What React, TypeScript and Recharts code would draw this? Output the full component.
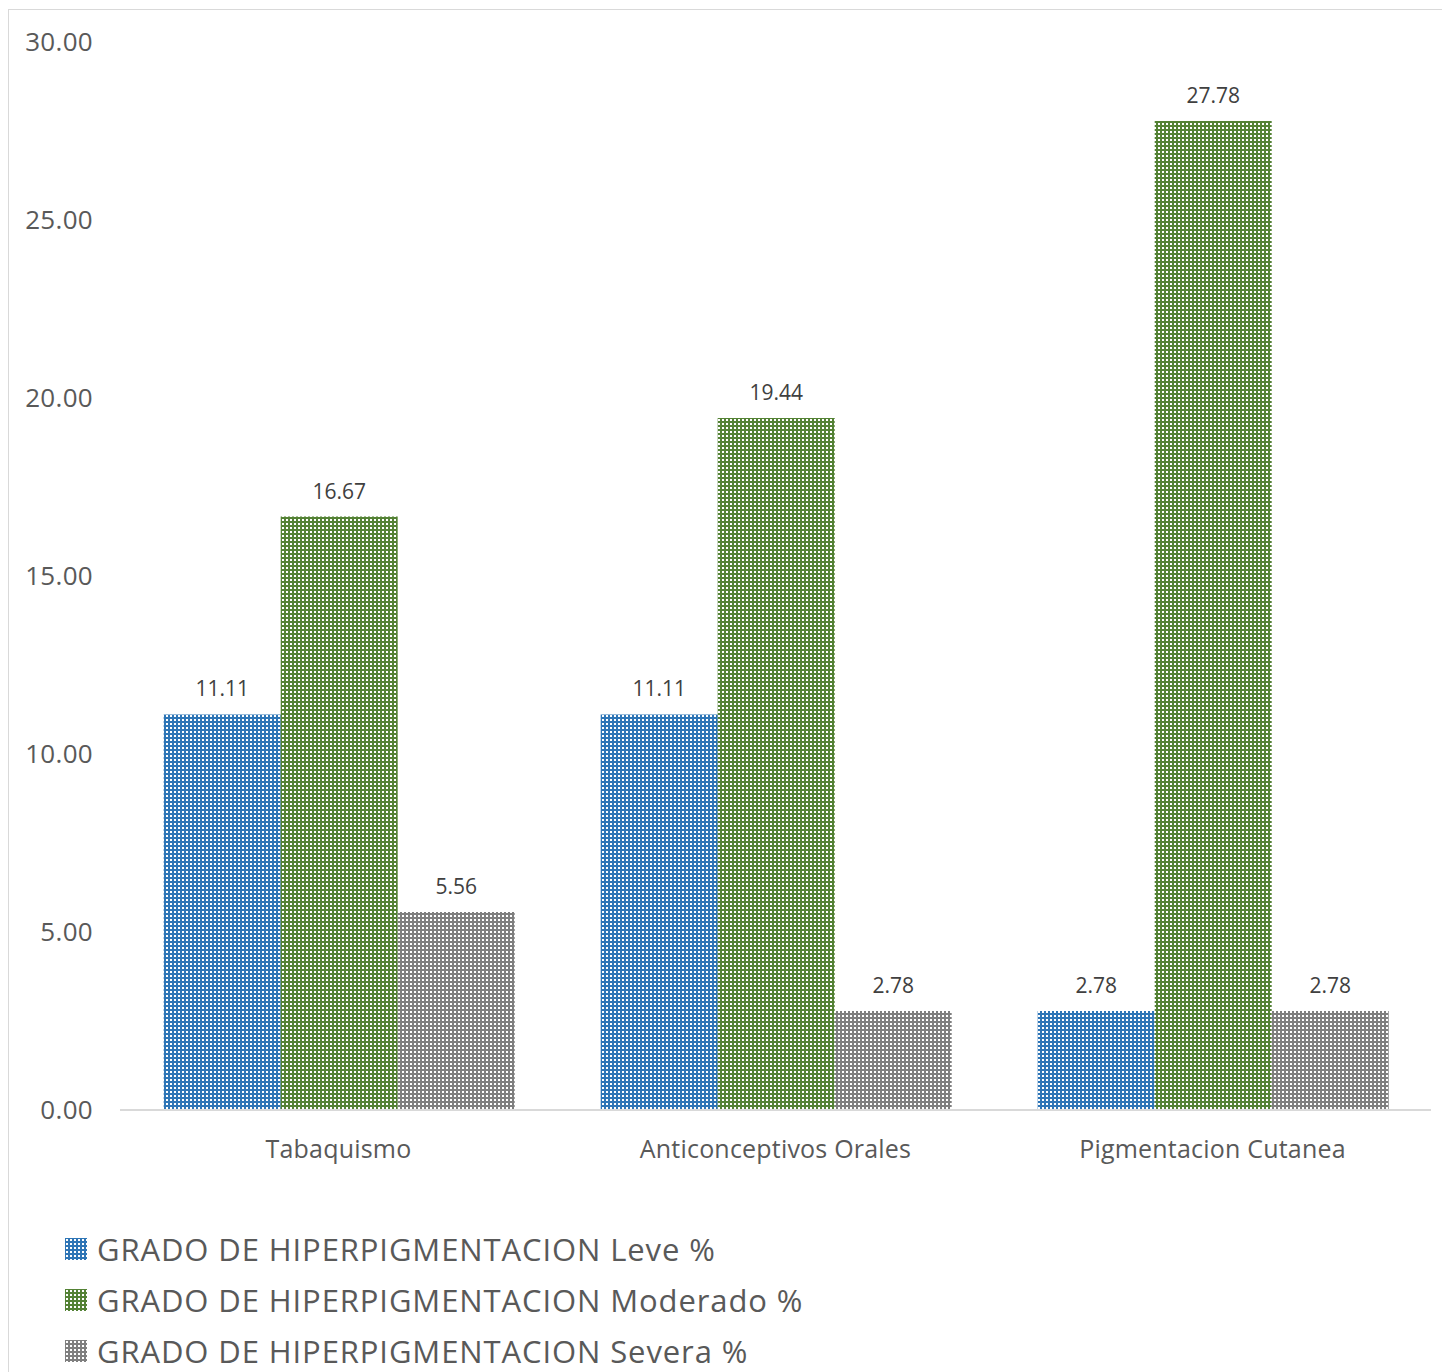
import { BarChart, Bar, XAxis, YAxis, Legend, LabelList } from "recharts";

const categories = ["Tabaquismo", "Anticonceptivos Orales", "Pigmentacion Cutanea"];
const leve = [11.11, 11.11, 2.78];
const moderado = [16.67, 19.44, 27.78];
const severa = [5.56, 2.78, 2.78];
const yTicks = [0, 5, 10, 15, 20, 25, 30];

const SERIES = [
  { key: "leve", name: "GRADO DE HIPERPIGMENTACION Leve %", color: "#2E75B6" },
  { key: "moderado", name: "GRADO DE HIPERPIGMENTACION Moderado %", color: "#548235" },
  { key: "severa", name: "GRADO DE HIPERPIGMENTACION Severa %", color: "#7F7F7F" },
];

const data = categories.map((name, i) => ({
  name,
  leve: leve[i],
  moderado: moderado[i],
  severa: severa[i],
}));

const FONT = "'Open Sans', 'Noto Sans', sans-serif";

const Patterns = () => (
  <svg width={0} height={0} style={{ position: "absolute" }}>
    <defs>
      {SERIES.map((s) => (
        <pattern
          key={s.key}
          id={`pat-${s.key}`}
          width={4}
          height={4}
          patternUnits="userSpaceOnUse"
        >
          <rect width={4} height={4} fill={s.color} />
          <rect x={1} y={1} width={2} height={2} fill="#ffffff" />
        </pattern>
      ))}
    </defs>
  </svg>
);

const LegendContent = () => (
  <div style={{ paddingLeft: 56, paddingTop: 53, fontFamily: FONT }}>
    {SERIES.map((s) => (
      <div
        key={s.key}
        style={{
          display: "flex",
          alignItems: "center",
          height: 51,
          fontSize: 31,
          letterSpacing: 0.9,
          color: "#595959",
        }}
      >
        <svg width={22} height={22} style={{ marginRight: 10 }}>
          <rect width={22} height={22} fill={`url(#pat-${s.key})`} />
        </svg>
        <span>{s.name}</span>
      </div>
    ))}
  </div>
);

export default function App() {
  return (
    <div
      style={{
        width: 1441,
        height: 1370,
        border: "1px solid #D9D9D9",
        marginTop: 1,
        position: "relative",
        background: "#fff",
      }}
    >
      <Patterns />
      <BarChart
        width={1441}
        height={1370}
        data={data}
        margin={{ top: 32, right: 19, bottom: 0, left: 0 }}
        barCategoryGap="10%"
        barGap={0}
      >
        <XAxis
          dataKey="name"
          axisLine={{ stroke: "#D9D9D9", strokeWidth: 2 }}
          tickLine={false}
          tickSize={0}
          tickMargin={30}
          height={60}
          tick={{ fill: "#595959", fontSize: 25, fontFamily: FONT, letterSpacing: 0.2 }}
        />
        <YAxis
          domain={[0, 30]}
          ticks={yTicks}
          width={111}
          axisLine={false}
          tickLine={false}
          tickSize={0}
          tickMargin={27}
          tickFormatter={(v: number) => v.toFixed(2)}
          tick={{ fill: "#595959", fontSize: 26, fontFamily: FONT, letterSpacing: 0.3 }}
        />
        <Legend verticalAlign="bottom" align="left" height={210} content={<LegendContent />} />
        {SERIES.map((s) => (
          <Bar
            key={s.key}
            dataKey={s.key}
            name={s.name}
            fill={`url(#pat-${s.key})`}
            isAnimationActive={false}
          >
            <LabelList
              dataKey={s.key}
              position="top"
              offset={18}
              formatter={(v: number) => v.toFixed(2)}
              style={{ fill: "#404040", fontSize: 21, fontFamily: FONT }}
            />
          </Bar>
        ))}
      </BarChart>
    </div>
  );
}
